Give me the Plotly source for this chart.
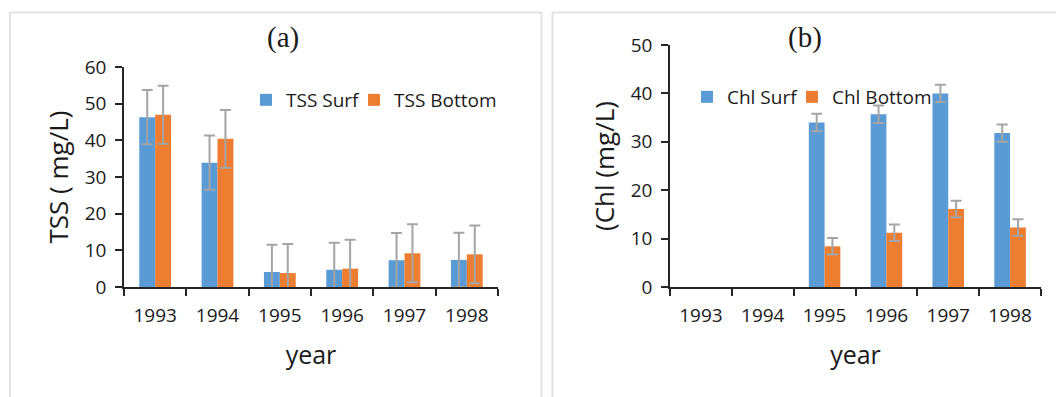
import plotly.graph_objects as go

W, H = 1056, 397

years = ["1993", "1994", "1995", "1996", "1997", "1998"]

tss_surf = [46.3, 33.9, 4.1, 4.7, 7.3, 7.4]
tss_bottom = [47.0, 40.4, 3.8, 5.0, 9.2, 8.9]
tss_surf_err = [7.4, 7.4, 7.4, 7.4, 7.4, 7.4]
tss_bottom_err = [7.9, 7.9, 7.9, 7.9, 7.9, 7.9]

chl_surf = [None, None, 34.0, 35.7, 40.0, 31.8]
chl_bottom = [None, None, 8.4, 11.2, 16.1, 12.3]
chl_surf_err = [1.8, 1.8, 1.8, 1.8, 1.8, 1.8]
chl_bottom_err = [1.7, 1.7, 1.7, 1.7, 1.7, 1.7]

BLUE = "#5b9bd5"
ORANGE = "#ed7d31"
ERR = "#a5a5a5"
FONT = "Open Sans"
TXT = "#1a1a1a"


def px(x):
    return x / W


def py(y):
    return (H - y) / H


def err(arr):
    return dict(type="data", array=arr, visible=True, color=ERR, thickness=2, width=5.5)


fig = go.Figure()

fig.add_trace(go.Bar(x=years, y=tss_surf, name="TSS Surf", marker=dict(color=BLUE, line=dict(width=0)),
                     error_y=err(tss_surf_err), xaxis="x", yaxis="y", legend="legend"))
fig.add_trace(go.Bar(x=years, y=tss_bottom, name="TSS Bottom", marker=dict(color=ORANGE, line=dict(width=0)),
                     error_y=err(tss_bottom_err), xaxis="x", yaxis="y", legend="legend2"))
fig.add_trace(go.Bar(x=years, y=chl_surf, name="Chl Surf", marker=dict(color=BLUE, line=dict(width=0)),
                     error_y=err(chl_surf_err), xaxis="x2", yaxis="y2", legend="legend3"))
fig.add_trace(go.Bar(x=years, y=chl_bottom, name="Chl Bottom", marker=dict(color=ORANGE, line=dict(width=0)),
                     error_y=err(chl_bottom_err), xaxis="x2", yaxis="y2", legend="legend4"))

axis_common = dict(showline=True, linecolor="#262626", linewidth=1.6, ticks="outside",
                   tickcolor="#262626", ticklen=7, tickwidth=1.6, showgrid=False, zeroline=False,
                   automargin=False,
                   tickfont=dict(family=FONT, size=19, color=TXT))

xcommon = dict(axis_common, type="category", tickson="boundaries", ticklabelstandoff=10,
               title=dict(text="year", font=dict(family=FONT, size=25, color=TXT), standoff=20))

ycommon = dict(axis_common, dtick=10, ticklabelstandoff=5)


def leg(xc, yc):
    return dict(orientation="h", x=px(xc - 20), y=py(yc), xanchor="left", yanchor="middle",
                font=dict(family=FONT, size=19, color=TXT), bgcolor="rgba(0,0,0,0)",
                itemclick=False, tracegroupgap=0)


fig.update_layout(
    template="none",
    width=W, height=H,
    margin=dict(l=0, r=0, t=0, b=0, autoexpand=False),
    paper_bgcolor="white", plot_bgcolor="white",
    barmode="group", bargap=0.49, bargroupgap=0,
    font=dict(family=FONT, color=TXT),
    xaxis=dict(xcommon, domain=[px(124), px(498)], anchor="y"),
    yaxis=dict(ycommon, domain=[py(287), py(67)], range=[0, 60], anchor="x",
               title=dict(text="TSS ( mg/L)", font=dict(family=FONT, size=26, color=TXT), standoff=9)),
    xaxis2=dict(xcommon, domain=[px(670), px(1041)], anchor="y2"),
    yaxis2=dict(ycommon, domain=[py(287), py(45)], range=[0, 50], anchor="x2",
                title=dict(text="(Chl (mg/L)", font=dict(family=FONT, size=26, color=TXT), standoff=9)),
    legend=leg(266, 100),
    legend2=leg(374, 100),
    legend3=leg(707, 97),
    legend4=leg(812, 97),
    showlegend=True,
    annotations=[
        dict(text="(a)", x=px(283), y=py(37), xref="paper", yref="paper", showarrow=False,
             xanchor="center", yanchor="middle", font=dict(family="Liberation Serif", size=29, color=TXT)),
        dict(text="(b)", x=px(805), y=py(37), xref="paper", yref="paper", showarrow=False,
             xanchor="center", yanchor="middle", font=dict(family="Liberation Serif", size=29, color=TXT)),
    ],
    shapes=[
        dict(type="rect", xref="paper", yref="paper", x0=px(10), x1=px(541.5), y0=py(400), y1=py(12.5),
             line=dict(color="#e3e3e3", width=2), layer="below"),
        dict(type="rect", xref="paper", yref="paper", x0=px(552.5), x1=px(1062), y0=py(400), y1=py(12.5),
             line=dict(color="#e3e3e3", width=2), layer="below"),
    ],
)

fig.write_html("out.html")
